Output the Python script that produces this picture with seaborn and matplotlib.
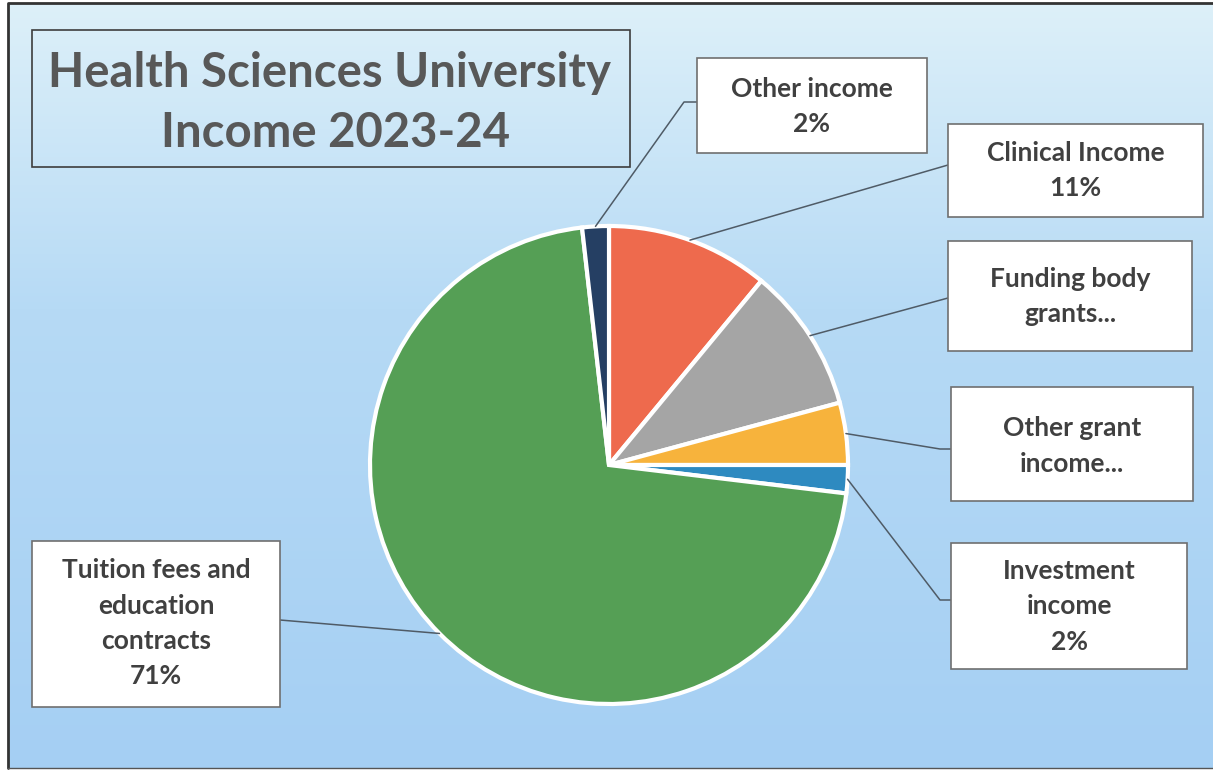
import numpy as np
import matplotlib
matplotlib.use("Agg")
import matplotlib.pyplot as plt
import seaborn as sns
from matplotlib.patches import Rectangle
from matplotlib.colors import LinearSegmentedColormap

# ---------------- data ----------------
categories = ["Clinical Income", "Funding body grants", "Other grant income",
              "Investment income", "Tuition fees and education contracts", "Other income"]
values = [11.0, 9.8, 4.2, 1.9, 71.3, 1.8]
label_names = ["Clinical Income", "Funding body\ngrants...", "Other grant\nincome...",
               "Investment\nincome", "Tuition fees and\neducation\ncontracts", "Other income"]
show_pct = [True, False, False, True, True, True]
colors = ["#ee6a4d", "#a5a5a5", "#f7b33c", "#2e8ac0", "#559f55", "#253f63"]
title_lines = ["Health Sciences University", "Income 2023-24"]

# ---------------- layout ----------------
W, H = 1213, 772
sns.set_theme(style="white")
plt.rcParams['font.family'] = ['Lato', 'DejaVu Sans']

fig = plt.figure(figsize=(W / 100, H / 100), dpi=100)
fig.patch.set_facecolor("white")

bg = fig.add_axes([0, 0, 1, 1])
bg.set_xlim(0, W)
bg.set_ylim(H, 0)
bg.axis("off")
grad = np.linspace(0, 1, 256)[:, None]
cmap = LinearSegmentedColormap.from_list(
    "bg", [(0, "#ddf0f9"), (0.4, "#b6daf5"), (1, "#a5cff3")])
bg.imshow(grad, aspect="auto", cmap=cmap, extent=[8, 1213, 768, 3])
bg.plot([8, 8, 1213], [768, 3, 3], color="#333333", lw=2)
bg.plot([8, 1213], [768, 768], color="#555555", lw=1)

# pie
cx, cy, r = 609, 465, 239
ax = fig.add_axes([(cx - r) / W, (H - cy - r) / H, 2 * r / W, 2 * r / H])
wedges, _ = ax.pie(values, colors=colors, startangle=90, counterclock=False,
                   wedgeprops=dict(edgecolor="white", linewidth=3))
for w in wedges:
    w.set_clip_on(False)
ax.set_xlim(-1, 1)
ax.set_ylim(-1, 1)
ax.set_aspect("equal")
ax.axis("off")

# overlay for boxes / lines
ov = fig.add_axes([0, 0, 1, 1], zorder=5)
ov.set_xlim(0, W)
ov.set_ylim(H, 0)
ov.axis("off")
ov.patch.set_alpha(0)

# title
ov.add_patch(Rectangle((32, 30), 598, 137, fill=False, ec="#3d3d3d", lw=1.2))
ov.text(329, 73, title_lines[0], ha="center", va="center", fontsize=34,
        fontweight="bold", color="#585858")
ov.text(336, 133, title_lines[1], ha="center", va="center", fontsize=34,
        fontweight="bold", color="#585858")

# label boxes: (x0, y0, x1, y1), path points (after anchor), first text line y
boxes = {
    "Clinical Income": ((948, 124, 1203, 217), [(948, 165)], 153),
    "Funding body grants": ((948, 241, 1192, 351), [(948, 298)], 279),
    "Other grant income": ((951, 387, 1193, 501), [(940, 449), (951, 449)], 428),
    "Investment income": ((951, 543, 1187, 669), [(940, 600), (951, 600)], 571),
    "Tuition fees and education contracts": ((32, 541, 280, 707), [(280, 620)], 570),
    "Other income": ((697, 58, 927, 153), [(684, 102), (697, 102)], 89),
}
line_step = 35.5

fig.canvas.draw()
total = sum(values)
for w, cat, name, sp, v in zip(wedges, categories, label_names, show_pct, values):
    (x0, y0, x1, y1), path, ty = boxes[cat]
    th = np.deg2rad((w.theta1 + w.theta2) / 2)
    disp = ax.transData.transform((np.cos(th), np.sin(th)))
    axp, ayp = ov.transData.inverted().transform(disp)
    xs = [axp] + [p[0] for p in path]
    ys = [ayp] + [p[1] for p in path]
    ov.plot(xs, ys, color="#4f5b66", lw=1.1, zorder=4)
    ov.add_patch(Rectangle((x0, y0), x1 - x0, y1 - y0, fc="white", ec="#6f6f6f",
                           lw=1.2, zorder=5))
    lines = name.split("\n")
    if sp:
        lines.append(f"{round(v / total * 100):.0f}%")
    xc = (x0 + x1) / 2
    for i, t in enumerate(lines):
        ov.text(xc, ty + i * line_step, t, ha="center", va="center", fontsize=19,
                fontweight="bold", color="#404040", zorder=6)

fig.savefig("out.png", dpi=100, facecolor="white")
